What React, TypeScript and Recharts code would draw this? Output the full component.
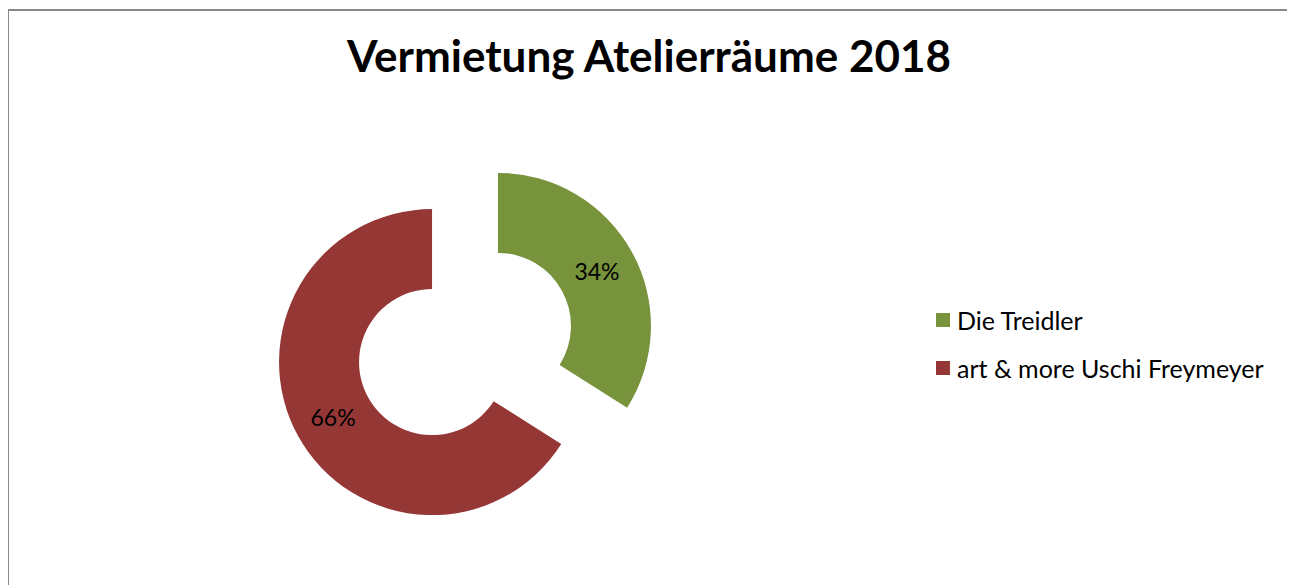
import React from 'react';
import { PieChart, Pie, Cell, Legend } from 'recharts';

const title = 'Vermietung Atelierräume 2018';
const tenants = ['Die Treidler', 'art & more Uschi Freymeyer'];
const shares = [34, 66];
const colors = ['#77933C', '#953735'];

const data = tenants.map((name, i) => ({ name, value: shares[i] }));
const total = shares.reduce((a, b) => a + b, 0);

const RADIAN = Math.PI / 180;
const CX = 456;
const CY = 333;
const OUTER = 153;
const INNER = 73;
const EXPLODE = 37.6;
const FONT = 'Lato, "Open Sans", sans-serif';

// mid angle of each slice (recharts degrees: start 90, clockwise)
const midAngles = shares.map((v, i) => {
  const before = shares.slice(0, i).reduce((a, b) => a + b, 0);
  return 90 - ((before + v / 2) / total) * 360;
});

const renderLabel = (only: number) => (props: any) => {
  const { cx, cy, midAngle, innerRadius, outerRadius, percent, index } = props;
  if (index !== only) return null;
  const r = (innerRadius + outerRadius) / 2;
  const x = cx + r * Math.cos(-midAngle * RADIAN);
  const y = cy + r * Math.sin(-midAngle * RADIAN);
  return (
    <text x={x} y={y} fill="#000" textAnchor="middle" dominantBaseline="central"
      style={{ fontFamily: FONT, fontSize: 23 }}>
      {`${Math.round(percent * 100)}%`}
    </text>
  );
};

const LegendContent = () => (
  <ul style={{ listStyle: 'none', margin: 0, padding: 0, fontFamily: FONT, fontSize: 25 }}>
    {tenants.map((t, i) => (
      <li key={t} style={{ display: 'flex', alignItems: 'center', height: 28, marginBottom: 20 }}>
        <span style={{ display: 'inline-block', width: 14, height: 14, background: colors[i], marginRight: 7 }} />
        <span style={{ color: '#000' }}>{t}</span>
      </li>
    ))}
  </ul>
);

export default function App() {
  return (
    <div style={{ position: 'relative', width: 1280, height: 600, border: '2px solid #888', marginLeft: -1, marginTop: 1 }}>
      <div style={{ position: 'absolute', left: 0, right: 0, top: 18, textAlign: 'center', fontFamily: FONT, fontWeight: 700, fontSize: 44, lineHeight: 1.2, color: '#000', zIndex: 2 }}>
        {title}
      </div>
      <PieChart width={1280} height={600} margin={{ top: 0, right: 0, bottom: 0, left: 0 }}>
        {shares.map((_, k) => (
          <Pie
            key={k}
            data={data}
            dataKey="value"
            nameKey="name"
            cx={CX + EXPLODE * Math.cos(-midAngles[k] * RADIAN)}
            cy={CY + EXPLODE * Math.sin(-midAngles[k] * RADIAN)}
            innerRadius={INNER}
            outerRadius={OUTER}
            startAngle={90}
            endAngle={-270}
            stroke="none"
            labelLine={false}
            label={renderLabel(k)}
            isAnimationActive={false}
            legendType="none"
          >
            {data.map((d, i) => (
              <Cell key={d.name} fill={i === k ? colors[i] : 'none'} stroke="none" />
            ))}
          </Pie>
        ))}
        <Legend layout="vertical" align="right" verticalAlign="middle" content={<LegendContent />}
          wrapperStyle={{ left: 927, top: 295, width: 'auto', right: 'auto' }} />
      </PieChart>
    </div>
  );
}
